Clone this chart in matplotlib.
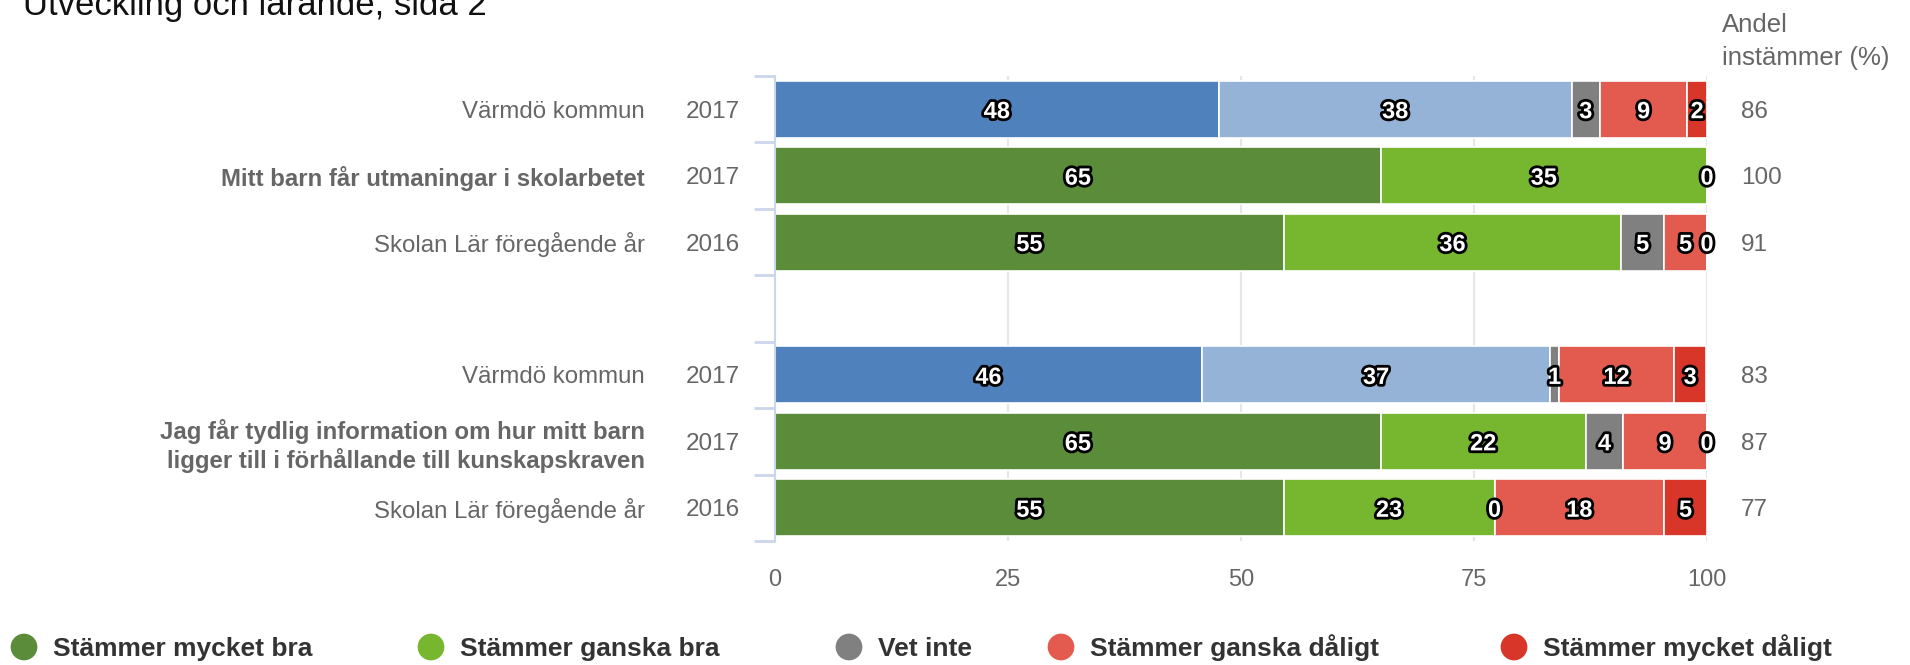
import matplotlib
matplotlib.use("Agg")
import matplotlib.pyplot as plt
import matplotlib.patheffects as pe
import numpy as np

plt.rcParams['font.family'] = ['Liberation Sans', 'DejaVu Sans']

# rows top to bottom, empty row is the gap between the two questions
row_names = ["Värmdö kommun",
             "Mitt barn får utmaningar i skolarbetet",
             "Skolan Lär föregående år",
             "",
             "Värmdö kommun",
             "Jag får tydlig information om hur mitt barn\nligger till i förhållande till kunskapskraven",
             "Skolan Lär föregående år"]
row_years = ["2017", "2017", "2016", "", "2017", "2017", "2016"]
bold_rows = [1, 5]
kommun_rows = [0, 4]

series_names = ["Stämmer mycket bra", "Stämmer ganska bra", "Vet inte",
                "Stämmer ganska dåligt", "Stämmer mycket dåligt"]
mycket_bra = [47.6, 65, 54.6, None, 45.8, 65, 54.6]
ganska_bra = [37.9, 35, 36.2, None, 37.4, 22, 22.6]
vet_inte = [3.0, None, 4.6, None, 0.9, 4, 0]
ganska_daligt = [9.4, None, 4.6, None, 12.4, 9, 18.2]
mycket_daligt = [2.1, 0, 0, None, 3.4, 0, 4.6]
andel = [86, 100, 91, None, 83, 87, 77]

colors = ["#5b8c39", "#77b72f", "#808080", "#e35b4e", "#d73628"]
kommun_colors = ["#4f81bd", "#95b3d7"]

series = [mycket_bra, ganska_bra, vet_inte, ganska_daligt, mycket_daligt]

fig = plt.figure(figsize=(19.1, 6.65), dpi=100)
ax = fig.add_axes([775 / 1910, 124 / 665, 932 / 1910, 465 / 665])

y = np.arange(len(row_names))
left = np.zeros(len(row_names))
outline = [pe.withStroke(linewidth=4, foreground="black")]
for si, vals in enumerate(series):
    for ri, v in enumerate(vals):
        if v is None:
            continue
        c = colors[si]
        if ri in kommun_rows and si < 2:
            c = kommun_colors[si]
        ax.barh(y[ri], v, left=left[ri], height=0.86, color=c,
                edgecolor="white", linewidth=1.2, zorder=2)
        ax.text(left[ri] + v / 2, y[ri], f"{v:.0f}", ha="center",
                va="center_baseline", color="white", fontsize=17,
                fontweight="bold", path_effects=outline, zorder=4,
                clip_on=False)
        left[ri] += v

ax.set_xlim(0, 100)
ax.set_ylim(len(row_names) - 0.5, -0.5)
ax.set_xticks([0, 25, 50, 75, 100])
ax.tick_params(axis="x", length=0, pad=20, labelsize=17, labelcolor="#666666")
ax.set_yticks(np.arange(len(row_names) + 1) - 0.5)
ax.set_yticklabels([])
ax.tick_params(axis="y", length=15, width=2, color="#ccd6eb")
ax.grid(axis="x", color="#e6e6e6", linewidth=1.5, zorder=0)
ax.set_axisbelow(True)
for s in ["top", "right", "bottom"]:
    ax.spines[s].set_visible(False)
ax.spines["left"].set_color("#ccd6eb")
ax.spines["left"].set_linewidth(1.5)

ytr = ax.get_yaxis_transform()
for ri, name in enumerate(row_names):
    if not name:
        continue
    ax.text(-0.1395, y[ri], name, transform=ytr, ha="right",
            va="center_baseline", fontsize=17.3, color="#666666",
            fontweight="bold" if ri in bold_rows else "normal")
    ax.text(-0.0376, y[ri], row_years[ri], transform=ytr, ha="right",
            va="center_baseline", fontsize=17.5, color="#666666")
    if andel[ri] is not None:
        ax.text(1.0365, y[ri], str(andel[ri]), transform=ytr, ha="left",
                va="center_baseline", fontsize=17.5, color="#666666")

fig.text(1722 / 1910, 1 - 23 / 665, "Andel", ha="left",
         va="center_baseline", fontsize=18.5, color="#666666")
fig.text(1722 / 1910, 1 - 55 / 665, "instämmer (%)", ha="left",
         va="center_baseline", fontsize=18.5, color="#666666")

fig.text(23 / 1910, 1 - 15 / 665, "Utveckling och lärande, sida 2", ha="left",
         va="baseline", fontsize=25, color="#111111")

# legend
leg = fig.add_axes([0, 0, 1, 1])
leg.set_xlim(0, 1910)
leg.set_ylim(665, 0)
leg.axis("off")
leg_x = [24, 431, 849, 1061, 1514]
for name, c, lx in zip(series_names, colors, leg_x):
    leg.scatter([lx], [647], s=370, color=c, edgecolors="none")
    leg.text(lx + 29, 656, name, ha="left", va="baseline", fontsize=19,
             fontweight="bold", color="#333333")

fig.savefig("out.png", dpi=100)
